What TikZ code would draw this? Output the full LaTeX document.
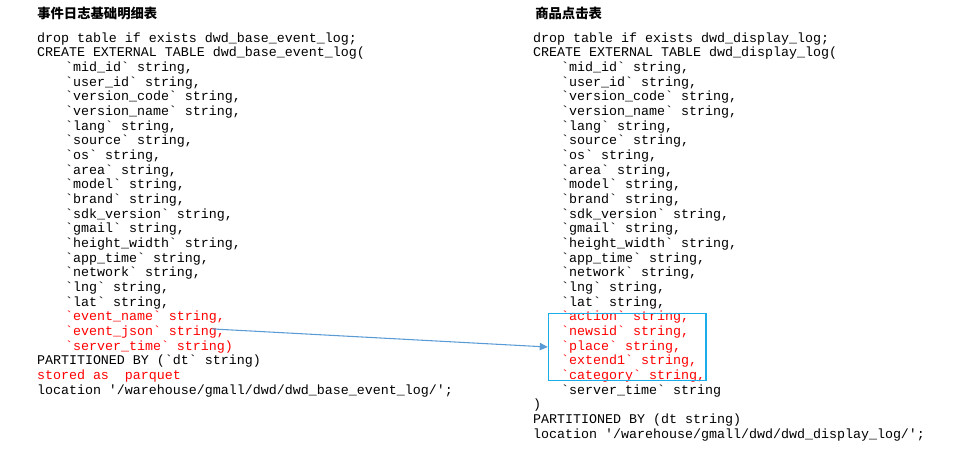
\documentclass[tikz,border=0pt]{standalone}
\usepackage{fontspec}
\setmonofont{Liberation Mono}
\newfontfamily\cjk{Noto Sans CJK SC}
\usetikzlibrary{arrows.meta,fit}
\definecolor{boxblue}{HTML}{1AADEA}
\definecolor{arrowblue}{HTML}{5B9BD5}
\definecolor{codered}{HTML}{FF0000}
\begin{document}
\begin{tikzpicture}[x=0.75pt,y=-0.75pt,
  code/.style={font=\ttfamily\fontsize{10pt}{11pt}\selectfont, anchor=base west, inner sep=0pt, outer sep=0pt, text=black, yshift=-1.5pt},
  red code/.style={code, text=codered},
  title/.style={font=\cjk\bfseries\fontsize{10pt}{12pt}\selectfont, anchor=base west, inner sep=0pt},
  hlbox/.style={draw=boxblue, line width=1.1pt, inner sep=0pt},
  link/.style={draw=arrowblue, line width=0.8pt, -{Triangle[length=6pt,width=5.5pt]}}]
\useasboundingbox (0,0) rectangle (976,451);
% titles
\node[title] (tl) at (37,18) {事件日志基础明细表};
\node[title] (tr) at (535,18) {商品点击表};
% left block
\node[code] (l1) at (37,40) {drop table if exists dwd\_base\_event\_log;};
\node[code] (l2) at (37,54.67) {CREATE EXTERNAL TABLE dwd\_base\_event\_log(};
% right block
\node[code] (r1) at (533,40) {drop table if exists dwd\_display\_log;};
\node[code] (r2) at (533,54.67) {CREATE EXTERNAL TABLE dwd\_display\_log(};
% common fields
\foreach \t [count=\i from 3] in {mid\_id, user\_id, version\_code, version\_name, lang, source, os, area, model, brand, sdk\_version, gmail, height\_width, app\_time, network, lng, lat}{
  \node[code] (l\i) at (65,{40+(\i-1)*14.667}) {`\t` string,};
  \node[code] (r\i) at (561,{40+(\i-1)*14.667}) {`\t` string,};
}
% left tail
\node[red code] (l20) at (65,318.67) {`event\_name` string,};
\node[red code] (l21) at (65,333.33) {`event\_json` string,};
\node[red code] (l22) at (65,348) {`server\_time` string)};
\node[code] (l23) at (37,362.67) {PARTITIONED BY (`dt` string)};
\node[red code] (l24) at (37,377.33) {stored as\ \ parquet};
\node[code] (l25) at (37,392) {location '/warehouse/gmall/dwd/dwd\_base\_event\_log/';};
% right tail
\node[red code] (r20) at (561,318.67) {`action` string,};
\node[red code] (r21) at (561,333.33) {`newsid` string,};
\node[red code] (r22) at (561,348) {`place` string,};
\node[red code] (r23) at (561,362.67) {`extend1` string,};
\node[red code] (r24) at (561,377.33) {`category` string,};
\node[code] (r25) at (561,392) {`server\_time` string};
\node[code] (r26) at (533,406.67) {)};
\node[code] (r27) at (533,421.33) {PARTITIONED BY (dt string)};
\node[code] (r28) at (533,436) {location '/warehouse/gmall/dwd/dwd\_display\_log/';};
% highlight box
\coordinate (b1) at (548.5,313.5);
\coordinate (b2) at (706,380.5);
\node[hlbox, fit=(b1)(b2)] (hl) {};
% connector
\draw[link] ([xshift=-9.5pt,yshift=4.8pt]l21.base east) -- (hl.west);
\end{tikzpicture}
\end{document}
